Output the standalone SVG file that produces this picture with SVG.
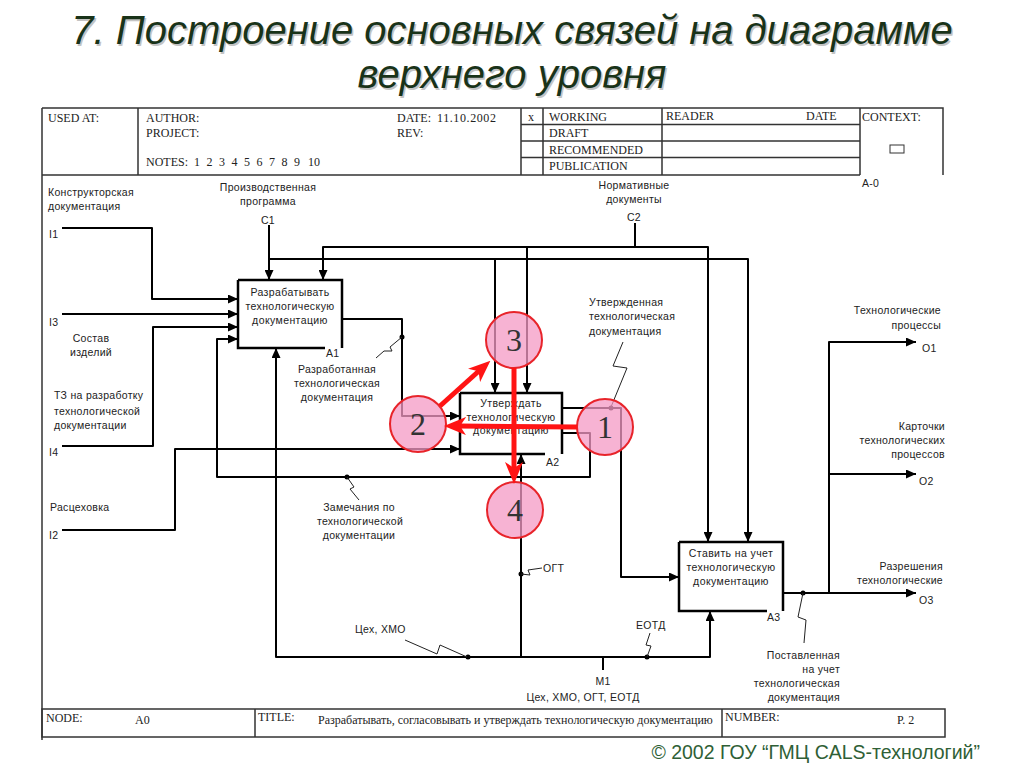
<svg xmlns="http://www.w3.org/2000/svg" width="1024" height="767" viewBox="0 0 1024 767">
<defs>
<marker id="ah" markerUnits="userSpaceOnUse" markerWidth="10" markerHeight="9" refX="10" refY="4.5" orient="auto"><path d="M0,0 L10,4.5 L0,9 z" fill="#000"/></marker>
<marker id="rh" markerUnits="userSpaceOnUse" markerWidth="22" markerHeight="18" refX="8" refY="9" orient="auto"><path d="M0,0 L22,9 L0,18 L6,9 z" fill="#ff1414"/></marker>
<style>
.frm{fill:none;stroke:#333;stroke-width:1.5}
.hd{font-family:"Liberation Serif",serif;font-size:12px;fill:#222}
.lb{font-family:"Liberation Sans",Arial,sans-serif;font-size:10.5px;letter-spacing:0.3px;fill:#222}
.bx{fill:#fff;stroke:#000;stroke-width:2.5}
.bt{font-family:"Liberation Sans",Arial,sans-serif;font-size:10.5px;letter-spacing:0.4px;fill:#222;text-anchor:middle}
.cn{fill:none;stroke:#000;stroke-width:2;stroke-linejoin:round}
.ar{marker-end:url(#ah)}
.sq{fill:none;stroke:#222;stroke-width:1}
.dot{fill:#000}
.rc{fill:#f49ac4;fill-opacity:0.75;stroke:#e8242a;stroke-width:2}
.rn{font-family:"Liberation Serif",serif;font-size:32px;fill:#333;text-anchor:middle}
.ra{fill:none;stroke:#ff1414;stroke-width:5;marker-end:url(#rh)}
.ttl{font-family:"Liberation Sans",Arial,sans-serif;font-size:40px;font-style:italic;text-anchor:middle}
</style>
</defs>
<rect width="1024" height="767" fill="#fff"/>
<g id="title">
<text class="ttl" x="513.5" y="45.5" fill="#c4c4c4">7. Построение основных связей на диаграмме</text>
<text class="ttl" x="513.5" y="89.5" fill="#c4c4c4">верхнего уровня</text>
<text class="ttl" x="512" y="44" fill="#193319">7. Построение основных связей на диаграмме</text>
<text class="ttl" x="512" y="88" fill="#193319">верхнего уровня</text>
</g>
<g id="frame">
<path class="frm" d="M42,108 H943 V175 M42,108 V740 M42,175 H860 M138,108 V175 M521,108 V175 M543,108 V175 M662,108 V175 M860,108 V175 M521,124.5 H860 M521,141 H860 M521,157.5 H860"/>
<rect class="frm" x="42" y="709" width="903" height="28"/>
<path class="frm" d="M255,709 V737 M722,709 V737"/>
<rect x="890" y="145" width="14" height="8" fill="none" stroke="#333" stroke-width="1"/>
<text class="hd" x="48" y="122">USED AT:</text>
<text class="hd" x="146" y="122">AUTHOR:</text>
<text class="hd" x="146" y="137">PROJECT:</text>
<text class="hd" y="166"><tspan x="146">NOTES:</tspan><tspan x="194">1</tspan><tspan x="206.5">2</tspan><tspan x="219">3</tspan><tspan x="231.5">4</tspan><tspan x="244">5</tspan><tspan x="256.5">6</tspan><tspan x="269">7</tspan><tspan x="281.5">8</tspan><tspan x="294">9</tspan><tspan x="308">10</tspan></text>
<text class="hd" x="397" y="122">DATE:</text>
<text class="hd" x="437" y="122" letter-spacing="0.6">11.10.2002</text>
<text class="hd" x="397" y="137">REV:</text>
<text class="hd" x="528" y="121" font-size="9">x</text>
<text class="hd" x="549" y="121">WORKING</text>
<text class="hd" x="549" y="137">DRAFT</text>
<text class="hd" x="549" y="153.5">RECOMMENDED</text>
<text class="hd" x="549" y="170">PUBLICATION</text>
<text class="hd" x="666" y="120">READER</text>
<text class="hd" x="806" y="120">DATE</text>
<text class="hd" x="862" y="121" font-size="10">CONTEXT:</text>
<text class="lb" x="862" y="187">A-0</text>
<text class="hd" x="46" y="722">NODE:</text>
<text class="hd" x="135" y="724">A0</text>
<text class="hd" x="258" y="721">TITLE:</text>
<text class="hd" x="318" y="724" font-size="10.8">Разрабатывать, согласовывать и утверждать технологическую документацию</text>
<text class="hd" x="725" y="721">NUMBER:</text>
<text class="hd" x="897" y="724">P. 2</text>
</g>
<g id="connectors">
<path class="cn ar" d="M62,228 H152 V299 H238"/>
<path class="cn ar" d="M62,314 H238"/>
<path class="cn ar" d="M62,446 H153 V327 H238"/>
<path class="cn ar" d="M563,433 H590 V477 H217 V339 H238"/>
<path class="cn ar" d="M62,530 H175 V449 H460"/>
<path class="cn ar" d="M342,319 H402 V416 H460"/>
<path class="cn ar" d="M563,408 H621 V577 H679"/>
<path class="cn ar" d="M269,225 V280"/>
<path class="cn ar" d="M269,259 H748 V542"/>
<path class="cn ar" d="M495,259 V393"/>
<path class="cn" d="M635,223 V247"/>
<path class="cn ar" d="M636,247 H323 V280"/>
<path class="cn ar" d="M636,247 H708 V542"/>
<path class="cn ar" d="M527,247 V393"/>
<path class="cn" d="M603,670 V657"/>
<path class="cn ar" d="M603,657 H276 V348"/>
<path class="cn ar" d="M521,657 V454"/>
<path class="cn ar" d="M603,657 H710 V611"/>
<path class="cn ar" d="M783,593 H916"/>
<path class="cn ar" d="M829,593 V342 H916"/>
<path class="cn ar" d="M829,474 H916"/>
<circle class="dot" cx="402" cy="337" r="2.5"/>
<circle class="dot" cx="611" cy="408" r="2.5"/>
<circle class="dot" cx="347" cy="477" r="2.5"/>
<circle class="dot" cx="521" cy="574" r="2.5"/>
<circle class="dot" cx="468" cy="657" r="2.5"/>
<circle class="dot" cx="647" cy="657" r="2.5"/>
<circle class="dot" cx="803" cy="593" r="2.5"/>
<path class="sq" d="M402,337 L390,347 L392,351 L384,351 L376,358"/>
<path class="sq" d="M623,342 L613,366 L627,368 L611,407"/>
<path class="sq" d="M347,477 L354,487 L350,489 L359,500"/>
<path class="sq" d="M521,574 L530,575 L528,570 L542,568"/>
<path class="sq" d="M405,640 L437,654 L440,645 L467,657"/>
<path class="sq" d="M650,633 L646,645 L651,646 L647,657"/>
<path class="sq" d="M803,593 L798,617 L806,620 L804,643"/>
</g>
<g id="A1">
<path class="bx" d="M238,280 H342 V348 M238,280 V348 H325"/>
<text class="bt" x="290" y="296">Разрабатывать</text>
<text class="bt" x="290" y="310">технологическую</text>
<text class="bt" x="290" y="324">документацию</text>
<text class="lb" x="326" y="357">A1</text>
</g>
<g id="A2">
<path class="bx" d="M460,393 H562 V454 M460,393 V454 H545"/>
<text class="bt" x="511" y="407">Утверждать</text>
<text class="bt" x="511" y="421">технологическую</text>
<text class="bt" x="511" y="434">документацию</text>
<text class="lb" x="546" y="466">A2</text>
</g>
<g id="A3">
<path class="bx" d="M679,542 H783 V611 M679,542 V611 H767"/>
<text class="bt" x="731" y="557">Ставить на учет</text>
<text class="bt" x="731" y="571">технологическую</text>
<text class="bt" x="731" y="585">документацию</text>
<text class="lb" x="767" y="621">A3</text>
</g>
<g id="labels">
<text class="lb" x="48" y="196">Конструкторская</text>
<text class="lb" x="48" y="210">документация</text>
<text class="lb" x="49" y="238">I1</text>
<text class="lb" x="49" y="326">I3</text>
<text class="lb" x="91" y="342" text-anchor="middle">Состав</text>
<text class="lb" x="91" y="356" text-anchor="middle">изделий</text>
<text class="lb" x="54" y="399">ТЗ на разработку</text>
<text class="lb" x="54" y="415">технологической</text>
<text class="lb" x="54" y="429">документации</text>
<text class="lb" x="49" y="456">I4</text>
<text class="lb" x="50" y="511">Расцеховка</text>
<text class="lb" x="49" y="539">I2</text>
<text class="lb" x="268" y="191" text-anchor="middle">Производственная</text>
<text class="lb" x="268" y="205" text-anchor="middle">программа</text>
<text class="lb" x="268" y="224" text-anchor="middle">C1</text>
<text class="lb" x="634" y="189" text-anchor="middle">Нормативные</text>
<text class="lb" x="634" y="203" text-anchor="middle">документы</text>
<text class="lb" x="634" y="221" text-anchor="middle">C2</text>
<text class="lb" x="337" y="373" text-anchor="middle">Разработанная</text>
<text class="lb" x="337" y="387" text-anchor="middle">технологическая</text>
<text class="lb" x="337" y="401" text-anchor="middle">документация</text>
<text class="lb" x="589" y="306">Утвержденная</text>
<text class="lb" x="589" y="320">технологическая</text>
<text class="lb" x="589" y="335">документация</text>
<text class="lb" x="359" y="511" text-anchor="middle">Замечания по</text>
<text class="lb" x="360" y="525" text-anchor="middle">технологической</text>
<text class="lb" x="359" y="539" text-anchor="middle">документации</text>
<text class="lb" x="543" y="572">ОГТ</text>
<text class="lb" x="355" y="633">Цех, ХМО</text>
<text class="lb" x="636" y="629">ЕОТД</text>
<text class="lb" x="603" y="685" text-anchor="middle">M1</text>
<text class="lb" x="583" y="701" text-anchor="middle">Цех, ХМО, ОГТ, ЕОТД</text>
<text class="lb" x="941" y="314" text-anchor="end">Технологические</text>
<text class="lb" x="941" y="329" text-anchor="end">процессы</text>
<text class="lb" x="922" y="352">O1</text>
<text class="lb" x="945" y="430" text-anchor="end">Карточки</text>
<text class="lb" x="945" y="444" text-anchor="end">технологических</text>
<text class="lb" x="945" y="458" text-anchor="end">процессов</text>
<text class="lb" x="919" y="485">O2</text>
<text class="lb" x="943" y="570" text-anchor="end">Разрешения</text>
<text class="lb" x="943" y="584" text-anchor="end">технологические</text>
<text class="lb" x="919" y="604">O3</text>
<text class="lb" x="840" y="659" text-anchor="end">Поставленная</text>
<text class="lb" x="840" y="673" text-anchor="end">на учет</text>
<text class="lb" x="840" y="687" text-anchor="end">технологическая</text>
<text class="lb" x="840" y="701" text-anchor="end">документация</text>
</g>
<g id="markers">
<circle class="rc" cx="514" cy="340" r="28"/>
<circle class="rc" cx="418" cy="424" r="28"/>
<circle class="rc" cx="605" cy="427" r="28"/>
<circle class="rc" cx="515" cy="510" r="28"/>
<text class="rn" x="514" y="351">3</text>
<text class="rn" x="418" y="435">2</text>
<text class="rn" x="605" y="438">1</text>
<text class="rn" x="515" y="521">4</text>
<path class="ra" d="M440,406 L480,370"/>
<path class="ra" d="M577,427 L458,426"/>
<path class="ra" d="M514,368 L514,470"/>
</g>
<text x="980" y="759" text-anchor="end" font-family="Liberation Sans, Arial, sans-serif" font-size="19.5" fill="#2f5f36">© 2002 ГОУ “ГМЦ CALS-технологий”</text>
</svg>
